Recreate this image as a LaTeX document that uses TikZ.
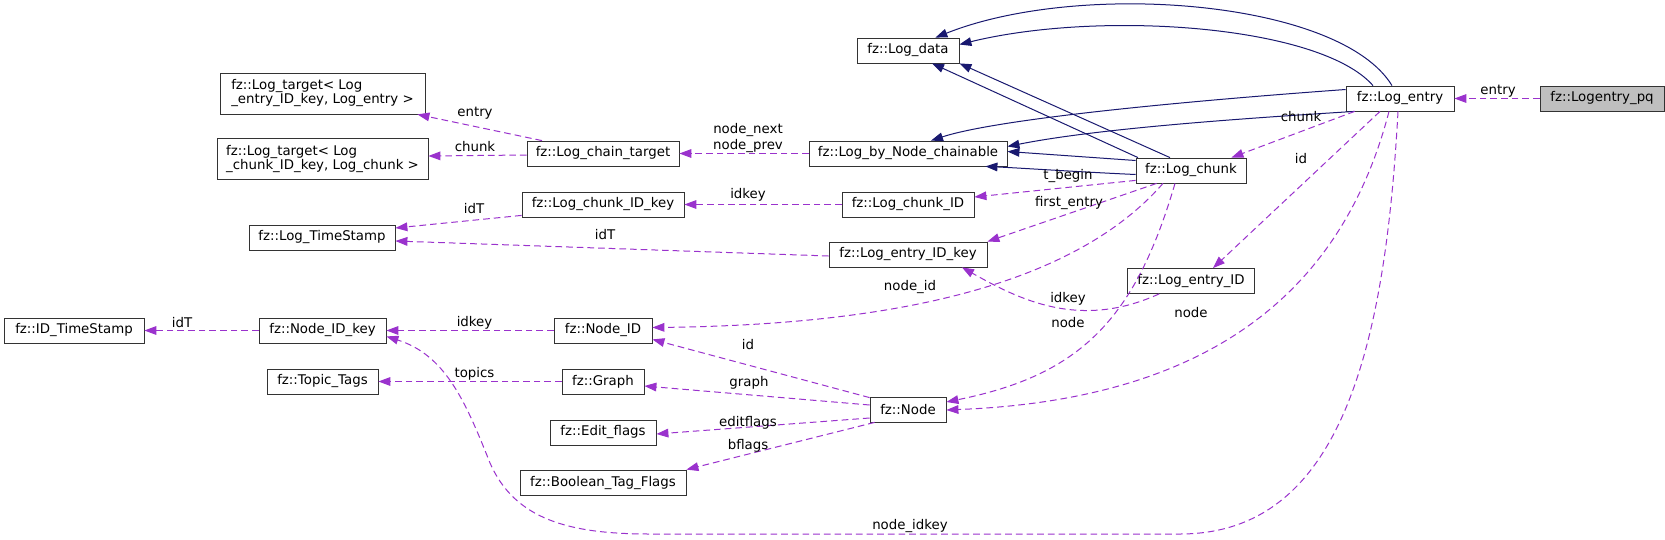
\documentclass[tikz,border=0pt]{standalone}
\usepackage{fontspec}
\setmainfont{DejaVu Sans}
\usetikzlibrary{arrows.meta,calc}
\definecolor{inherit}{HTML}{191970}
\definecolor{usage}{HTML}{9A32CD}
\definecolor{mainfill}{HTML}{BFBFBF}

\begin{document}
\begin{tikzpicture}[x=.75pt,y=-.75pt,font=\fontsize{10}{12}\selectfont,text=black,
  cls/.style={draw=black!80,fill=white,line width=.6pt,minimum height=18.75pt,
    inner xsep=2pt,inner ysep=1pt,minimum width=#1},
  wide/.style={cls=#1,align=left,minimum height=30.75pt,font=\fontsize{10}{10.5}\selectfont},
  base/.style={draw=inherit,line width=.75pt,-{Triangle[length=9pt,width=6.5pt]}},
  uses/.style={draw=usage,line width=.75pt,dash pattern=on 5pt off 3pt,
    -{Triangle[length=9pt,width=6.5pt]}},
  lbl/.style={inner sep=1pt}]
\useasboundingbox (0,0) rectangle (1665,539);
\fill[white] (0,0) rectangle (1665,539);

% CLASSES, ONE COLUMN PER RANK
\node[cls=93pt,fill=mainfill] (logentrypq) at (1602,98.5) {fz::Logentry\_pq};
\node[cls=81pt] (logentry) at (1400,98.5) {fz::Log\_entry};
\node[cls=82.5pt] (logchunk) at (1191,170.5) {fz::Log\_chunk};
\node[cls=95.25pt] (entryid) at (1191,281) {fz::Log\_entry\_ID};
\node[cls=76.5pt] (logdata) at (908,50.5) {fz::Log\_data};
\node[cls=148.5pt] (chainable) at (908,153.5) {fz::Log\_by\_Node\_chainable};
\node[cls=99pt] (chunkid) at (908,204.5) {fz::Log\_chunk\_ID};
\node[cls=118.5pt] (entryidkey) at (908,254.5) {fz::Log\_entry\_ID\_key};
\node[cls=57pt] (fznode) at (908,409.5) {fz::Node};
\node[cls=114pt] (chaintarget) at (603,153.5) {fz::Log\_chain\_target};
\node[cls=121.5pt] (chunkidkey) at (603,204.5) {fz::Log\_chunk\_ID\_key};
\node[cls=73.5pt] (nodeid) at (603,330.5) {fz::Node\_ID};
\node[cls=61.5pt] (graph) at (603,381.5) {fz::Graph};
\node[cls=79.5pt] (editflags) at (603,432.5) {fz::Edit\_flags};
\node[cls=124.5pt] (boolflags) at (603,482.5) {fz::Boolean\_Tag\_Flags};
\node[wide=153.75pt] (targetentry) at (322.5,93.5) {fz::Log\_target< Log\\\_entry\_ID\_key, Log\_entry >};
\node[wide=158.25pt] (targetchunk) at (322.5,159) {fz::Log\_target< Log\\\_chunk\_ID\_key, Log\_chunk >};
\node[cls=109.5pt] (logstamp) at (322,237.5) {fz::Log\_TimeStamp};
\node[cls=95.25pt] (nodeidkey) at (322.5,330.5) {fz::Node\_ID\_key};
\node[cls=83.25pt] (topictags) at (322.5,381.5) {fz::Topic\_Tags};
\node[cls=105pt] (idstamp) at (74,330.5) {fz::ID\_TimeStamp};

% INHERITANCE (SOLID)
\draw[base] ($(logentry.north)+(-8,0)$) .. controls (1340,0) and (1080,-20) .. ($(logdata.north east)+(-24,0)$);
\draw[base] ($(logentry.north)+(-27,0)$) .. controls (1320,25) and (1100,10) .. ($(logdata.east)+(0,-6)$);
\draw[base] ($(logchunk.north)+(-53,0)$) -- ($(logdata.south)+(24,0)$);
\draw[base] ($(logchunk.north)+(-21,0)$) -- (logdata.south east);
\draw[base] ($(logentry.west)+(0,-9)$) .. controls (1200,100) and (1000,118) .. ($(chainable.north)+(23,0)$);
\draw[base] ($(logentry.south west)+(9,0)$) .. controls (1250,118) and (1100,128) .. ($(chainable.east)+(0,-7)$);
\draw[base] ($(logchunk.west)+(0,-10)$) -- ($(chainable.east)+(0,-2)$);
\draw[base] ($(logchunk.west)+(0,4)$) .. controls (1080,172) and (1020,168) .. ($(chainable.south east)+(-22,0)$);

% MEMBERS (DASHED, LABELLED WITH THE MEMBER NAME)
\draw[uses] (logentrypq) -- (logentry);
\node[lbl] (l-entry) at (1498,91) {entry};
\draw[uses] ($(logentry.south west)+(9,0)$) -- ($(logchunk.north east)+(-15,0)$);
\node[lbl] (l-chunk) at (1301,117) {chunk};
\draw[uses] ($(logentry.south)+(-20,0)$) -- ($(entryid.north)+(22,0)$);
\node[lbl] (l-id) at (1301,159) {id};
\draw[uses] ($(logentry.south)+(-11,0)$) .. controls (1340,300) and (1200,400) .. ($(fznode.east)+(0,.5)$);
\node[lbl] (l-node) at (1191,313) {node};
\draw[uses] ($(logentry.south)+(-2,0)$) .. controls (1385,350) and (1340,534) .. (1180,534)
  -- (650,534) .. controls (570,534) and (515,520) .. (490,463)
  .. controls (465,400) and (445,355) .. ($(nodeidkey.south east)+(0,-7)$);
\node[lbl] (l-nodeidkey) at (910,526) {node\_idkey};

% Log_chunk members
\draw[uses] ($(logchunk.south west)+(0,-3)$) -- ($(chunkid.east)+(0,-7.5)$);
\node[lbl] (l-tbegin) at (1068,176) {t\_begin};
\draw[uses] ($(logchunk.south west)+(21,0)$) -- (entryidkey.north east);
\node[lbl] (l-firstentry) at (1069,203) {first\_entry};
\draw[uses] ($(logchunk.south)+(-28,0)$) .. controls (1070,290) and (880,325) .. ($(nodeid.east)+(0,-3)$);
\node[lbl] (l-nodeid) at (910,287) {node\_id};
\draw[uses] ($(logchunk.south)+(-16,0)$) .. controls (1135,320) and (1080,375) .. ($(fznode.east)+(0,-7.5)$);
\node[lbl] (l-chunknode) at (1068,323) {node};
\draw[uses] ($(entryid.south west)+(32,0)$) .. controls (1080,330) and (1020,300) .. ($(entryidkey.south)+(54,0)$);
\node[lbl] (l-entryidkey) at (1068,299) {idkey};

% keys and targets
\draw[uses] (chainable) -- (chaintarget);
\node[lbl,align=center] (l-nextprev) at (748,138) {node\_next\\node\_prev};
\draw[uses] ($(chaintarget.north)+(-61,0)$) -- ($(targetentry.south east)+(-8,0)$);
\node[lbl] (l-targetentry) at (475,113) {entry};
\draw[uses] ($(chaintarget.west)+(0,1.5)$) -- ($(targetchunk.east)+(0,-3)$);
\node[lbl] (l-targetchunk) at (475,147) {chunk};
\draw[uses] (chunkid) -- (chunkidkey);
\node[lbl] (l-chunkidkey) at (748,195) {idkey};
\draw[uses] ($(chunkidkey.south west)+(0,-2)$) -- ($(logstamp.east)+(0,-9.5)$);
\node[lbl] (l-chunkstamp) at (474,209) {idT};
\draw[uses] ($(entryidkey.west)+(0,1.5)$) -- ($(logstamp.east)+(0,3.5)$);
\node[lbl] (l-entrystamp) at (605,235) {idT};
\draw[uses] (nodeid) -- (nodeidkey);
\node[lbl] (l-nodeidkey2) at (474.5,322.7) {idkey};
\draw[uses] (nodeidkey) -- (idstamp);
\node[lbl] (l-idstamp) at (182,322.7) {idT};
\draw[uses] (graph) -- (topictags);
\node[lbl] (l-topics) at (474.5,374) {topics};

% fz::Node members
\draw[uses] ($(fznode.north west)+(0,1)$) -- ($(nodeid.south east)+(0,-4)$);
\node[lbl] (l-fznodeid) at (748,345) {id};
\draw[uses] ($(fznode.west)+(0,-4.5)$) -- ($(graph.east)+(0,4.5)$);
\node[lbl] (l-graph) at (749,383) {graph};
\draw[uses] ($(fznode.west)+(0,8.5)$) -- ($(editflags.east)+(0,1.5)$);
\node[lbl] (l-editflags) at (748,423) {editflags};
\draw[uses] ($(fznode.south west)+(5,0)$) -- (boolflags.north east);
\node[lbl] (l-bflags) at (748,446) {bflags};
\end{tikzpicture}
\end{document}
